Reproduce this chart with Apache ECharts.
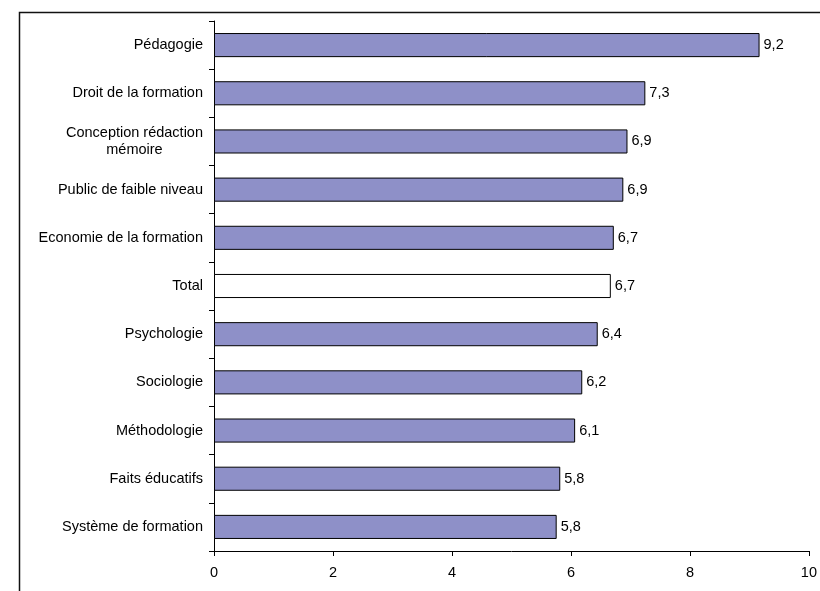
<!DOCTYPE html>
<html>
<head>
<meta charset="utf-8">
<script src="https://cdn.jsdelivr.net/npm/echarts@6/dist/echarts.min.js"></script>
<style>
html,body{margin:0;padding:0;background:#fff;}
#c{width:820px;height:591px;}
</style>
</head>
<body>
<div id="c"></div>
<script>
var categories = ['Pédagogie','Droit de la formation','Conception rédaction\nmémoire','Public de faible niveau','Economie de la formation','Total','Psychologie','Sociologie','Méthodologie','Faits éducatifs','Système de formation'];
var values = [9.17, 7.25, 6.95, 6.88, 6.72, 6.67, 6.45, 6.19, 6.07, 5.82, 5.76];
var valueLabels = ['9,2','7,3','6,9','6,9','6,7','6,7','6,4','6,2','6,1','5,8','5,8'];
var xTicks = [0, 2, 4, 6, 8, 10];
var highlight = 'Total';

var FONT = 'Liberation Sans, Arial, sans-serif';
var FS = 14.5;
var chart = echarts.init(document.getElementById('c'), null, {renderer:'canvas'});
var barData = values.map(function(v, i){
  return {
    value: v,
    itemStyle: { color: categories[i] === highlight ? '#ffffff' : '#8e90c8' }
  };
});
chart.setOption({
  animation: false,
  backgroundColor: '#fff',
  graphic: [{
    type: 'rect', left: 17, top: 10, z: -1,
    shape: { width: 900, height: 900 },
    style: { fill: 'none', stroke: '#111', lineWidth: 1.5 }
  }],
  grid: { left: 214, top: 21, right: 5, bottom: 40, containLabel: false },
  xAxis: {
    type: 'value', min: xTicks[0], max: xTicks[xTicks.length-1], interval: 2,
    axisLine: { show: true, lineStyle: { color: '#000', width: 1 } },
    axisTick: { show: true, length: 5, lineStyle: { color: '#000' } },
    splitLine: { show: false },
    axisLabel: { color: '#000', fontFamily: FONT, fontSize: FS, margin: 14,
      formatter: function(v){ return String(v); } }
  },
  yAxis: {
    type: 'category', data: categories, inverse: true,
    axisLine: { show: true, lineStyle: { color: '#000', width: 1 } },
    axisTick: { show: true, length: 5, lineStyle: { color: '#000' } },
    axisLabel: { color: '#000', fontFamily: FONT, fontSize: FS, margin: 11,
      lineHeight: 17,
      formatter: function(v){
        return v.split('\n').map(function(s){ return '{c|' + s + '}'; }).join('\n');
      },
      rich: { c: { align: 'center', fontFamily: FONT, fontSize: FS, color: '#000', lineHeight: 17 } }
    }
  },
  series: [{
    type: 'bar', data: barData, barWidth: '50%',
    itemStyle: { borderColor: '#000', borderWidth: 1 },
    label: { show: true, position: 'right', distance: 4, color: '#000',
      fontFamily: FONT, fontSize: FS,
      formatter: function(p){ return valueLabels[p.dataIndex]; } }
  }]
});
</script>
</body>
</html>
